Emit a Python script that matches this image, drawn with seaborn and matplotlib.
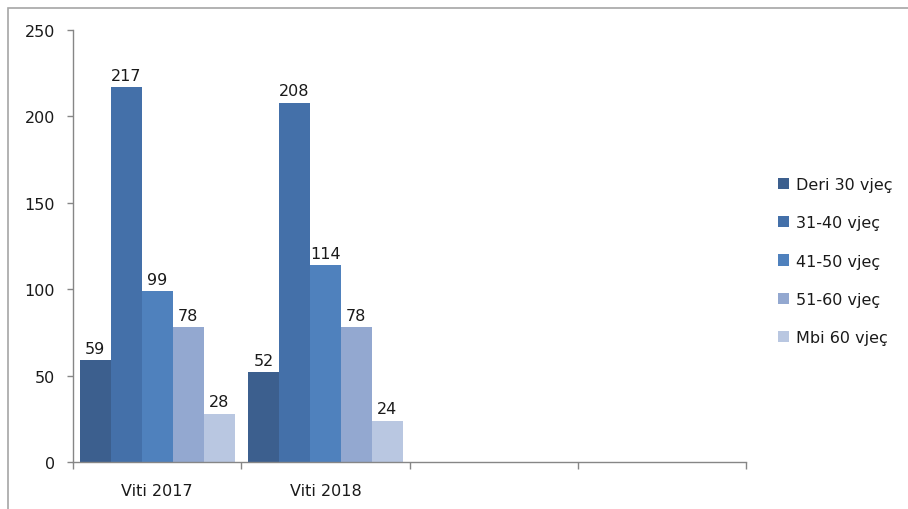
import matplotlib
matplotlib.use("Agg")
import matplotlib.pyplot as plt
import matplotlib.patches as mpatches
import seaborn as sns
import pandas as pd

categories = ["Viti 2017", "Viti 2018", "", " "]
series = ["Deri 30 vjeç", "31-40 vjeç", "41-50 vjeç", "51-60 vjeç", "Mbi 60 vjeç"]
values_2017 = [59, 217, 99, 78, 28]
values_2018 = [52, 208, 114, 78, 24]
colors = ["#3C5F8E", "#4470A9", "#4F81BD", "#93A8D0", "#B9C7E1"]

rows = []
for s, v in zip(series, values_2017):
    rows.append({"cat": "Viti 2017", "series": s, "val": v})
for s, v in zip(series, values_2018):
    rows.append({"cat": "Viti 2018", "series": s, "val": v})
df = pd.DataFrame(rows)

sns.set_theme(style="white")
plt.rcParams["font.family"] = ["DejaVu Sans"]

FS = 11.5
fig = plt.figure(figsize=(9.08, 5.10), dpi=100)
ax = fig.add_axes([73/908, 47/510, (746-73)/908, (463-31)/510])

sns.barplot(data=df, x="cat", y="val", hue="series", order=categories,
            hue_order=series, palette=colors, width=0.92, gap=0,
            saturation=1, ax=ax, errorbar=None, legend=True, linewidth=0)

for cont in ax.containers:
    ax.bar_label(cont, padding=3, fontsize=FS, color="#1a1a1a")

ax.set_xlim(-0.5, 3.5)
ax.set_ylim(0, 250)
ax.set_yticks([0, 50, 100, 150, 200, 250])
ax.set_xlabel("")
ax.set_ylabel("")
ax.set_xticks([0, 1, 2, 3])
ax.set_xticklabels(categories)
ax.set_xticks([-0.5, 0.5, 1.5, 2.5, 3.5], minor=True)
ax.tick_params(axis="x", which="major", length=0, pad=15, labelsize=FS, labelcolor="#1a1a1a")
ax.tick_params(axis="x", which="minor", length=5, width=1, color="#868686", direction="out", bottom=True)
ax.tick_params(axis="y", length=4, width=1, color="#868686", direction="out", left=True, labelsize=FS, labelcolor="#1a1a1a", pad=9)
for side in ["top", "right"]:
    ax.spines[side].set_visible(False)
for side in ["left", "bottom"]:
    ax.spines[side].set_color("#868686")
    ax.spines[side].set_linewidth(1)

leg = ax.legend(loc="center left", bbox_to_anchor=(1.035, 0.465), frameon=False,
                fontsize=FS, handlelength=0.7, handleheight=0.7,
                labelspacing=1.45, handletextpad=0.45, borderpad=0)
for t in leg.get_texts():
    t.set_color("#1a1a1a")

border = mpatches.Rectangle((8/908, -0.1), 1.2, 1 + 0.1 - 8.5/510,
                            transform=fig.transFigure, fill=False,
                            edgecolor="#a6a6a6", linewidth=1.2, zorder=-1)
fig.patches.append(border)

fig.savefig("out.png", dpi=100, facecolor="white")
